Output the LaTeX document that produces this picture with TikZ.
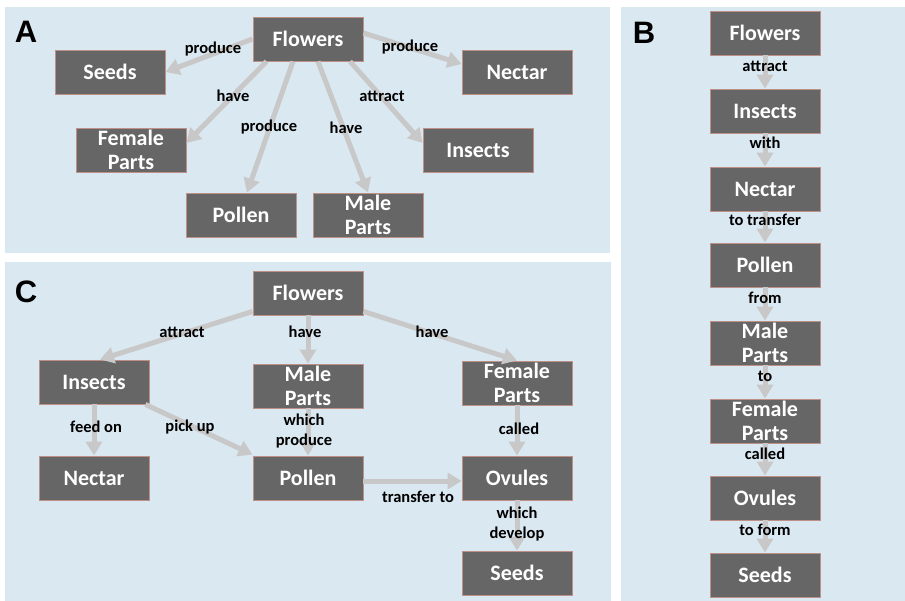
\documentclass[tikz,border=0pt]{standalone}
\usepackage{fontspec}
\setmainfont{Carlito}
\newfontfamily\panelfont{Liberation Sans}
\usetikzlibrary{arrows.meta,calc}
\definecolor{panelbg}{HTML}{DAE8F1}
\definecolor{boxfill}{HTML}{666666}
\definecolor{boxline}{HTML}{BE9088}
\definecolor{arrowgray}{HTML}{C8C8C8}
\begin{document}
\begin{tikzpicture}[x=1pt,y=-1pt,
 box/.style={draw=boxline, line width=0.9pt, fill=boxfill, text=white, minimum width=110pt, minimum height=44pt, inner sep=0pt, align=center, font=\fontsize{22}{24}\selectfont\bfseries},
 lbl/.style={text=black, font=\fontsize{16.5}{20}\selectfont\bfseries, align=center, inner sep=0pt},
 conn/.style={draw=arrowgray, line width=5pt, -{Triangle[width=16pt,length=14pt]}},
 plabel/.style={font=\panelfont\fontsize{31}{31}\selectfont\bfseries, inner sep=0pt}
]
\fill[white] (0,0) rectangle (905,601);
\useasboundingbox (0,0) rectangle (905,601);
\fill[panelbg] (5,7) rectangle (610,253);
\fill[panelbg] (5,262) rectangle (611,601);
\fill[panelbg] (621,7) rectangle (905,601);

\node[plabel] (pA) at (26,32) {A};
\node[plabel] (pB) at (644,33) {B};
\node[plabel] (pC) at (26,292) {C};

% ---------- Panel A ----------
\node[box] (aF) at (308,39) {Flowers};
\node[box] (aS) at (110,72) {Seeds};
\node[box] (aN) at (517,72) {Nectar};
\node[box] (aFP) at (131,150) {Female\\Parts};
\node[box] (aI) at (478,150) {Insects};
\node[box] (aP) at (241,215) {Pollen};
\node[box] (aM) at (368,215) {Male\\Parts};

\draw[conn] (aF.west) -- (aS.east);
\draw[conn] ($(aF.east)+(0,-6)$) -- ($(aN.west)+(0,-8)$);
\draw[conn] ($(aF.south west)+(14,0)$) -- ($(aFP.east)+(0,-7)$);
\draw[conn] ($(aF.south)+(-15,0)$) -- ($(aP.north)+(6,0)$);
\draw[conn] ($(aF.south)+(10,0)$) -- (aM.north);
\draw[conn] ($(aF.south)+(42,0)$) -- ($(aI.west)+(0,-7)$);

\node[lbl] (aL1) at (213,49) {produce};
\node[lbl] (aL2) at (410,47) {produce};
\node[lbl] (aL3) at (233,96) {have};
\node[lbl] (aL4) at (269,127) {produce};
\node[lbl] (aL5) at (346,128) {have};
\node[lbl] (aL6) at (382,96) {attract};

% ---------- Panel B ----------
\node[box] (bF) at (765,33) {Flowers};
\node[box] (bI) at (765,111) {Insects};
\node[box] (bN) at (765,189) {Nectar};
\node[box] (bP) at (765,265) {Pollen};
\node[box] (bM) at (765,343) {Male\\Parts};
\node[box] (bFP) at (765,421) {Female\\Parts};
\node[box] (bO) at (765,498) {Ovules};
\node[box] (bS) at (765,575) {Seeds};

\draw[conn] (bF.south) -- (bI.north);
\draw[conn] (bI.south) -- (bN.north);
\draw[conn] (bN.south) -- (bP.north);
\draw[conn] (bP.south) -- (bM.north);
\draw[conn] (bM.south) -- (bFP.north);
\draw[conn] (bFP.south) -- (bO.north);
\draw[conn] (bO.south) -- (bS.north);

\node[lbl] (bL1) at (765,66) {attract};
\node[lbl] (bL2) at (765,143) {with};
\node[lbl] (bL3) at (765,220) {to transfer};
\node[lbl] (bL4) at (765,298) {from};
\node[lbl] (bL5) at (765,376) {to};
\node[lbl] (bL6) at (765,454) {called};
\node[lbl] (bL7) at (765,530) {to form};

% ---------- Panel C ----------
\node[box] (cF) at (308,293) {Flowers};
\node[box] (cI) at (94,382) {Insects};
\node[box] (cM) at (308,386) {Male\\Parts};
\node[box] (cFP) at (517,383) {Female\\Parts};
\node[box] (cN) at (94,478) {Nectar};
\node[box] (cP) at (308,478) {Pollen};
\node[box] (cO) at (517,478) {Ovules};
\node[box] (cS) at (517,573) {Seeds};

\draw[conn] ($(cF.south west)+(0,-4)$) -- ($(cI.north)+(6,0)$);
\draw[conn] (cF.south) -- (cM.north);
\draw[conn] ($(cF.south east)+(0,-4)$) -- (cFP.north);
\draw[conn] (cI.south) -- (cN.north);
\draw[conn] ($(cI.south east)+(-4,0)$) -- ($(cP.north west)+(0,-1)$);
\draw[conn] (cM.south) -- (cP.north);
\draw[conn] ($(cP.east)+(0,3)$) -- ($(cO.west)+(0,3)$);
\draw[conn] (cFP.south) -- (cO.north);
\draw[conn] (cO.south) -- (cS.north);

\node[lbl] (cL1) at (182,332) {attract};
\node[lbl] (cL2) at (305,332) {have};
\node[lbl] (cL3) at (432,332) {have};
\node[lbl] (cL4) at (96,427) {feed on};
\node[lbl] (cL5) at (190,427) {pick up};
\node[lbl] (cL6) at (304,431) {which\\produce};
\node[lbl] (cL7) at (519,429) {called};
\node[lbl] (cL8) at (418,497) {transfer to};
\node[lbl] (cL9) at (517,524) {which\\develop};
\end{tikzpicture}
\end{document}
